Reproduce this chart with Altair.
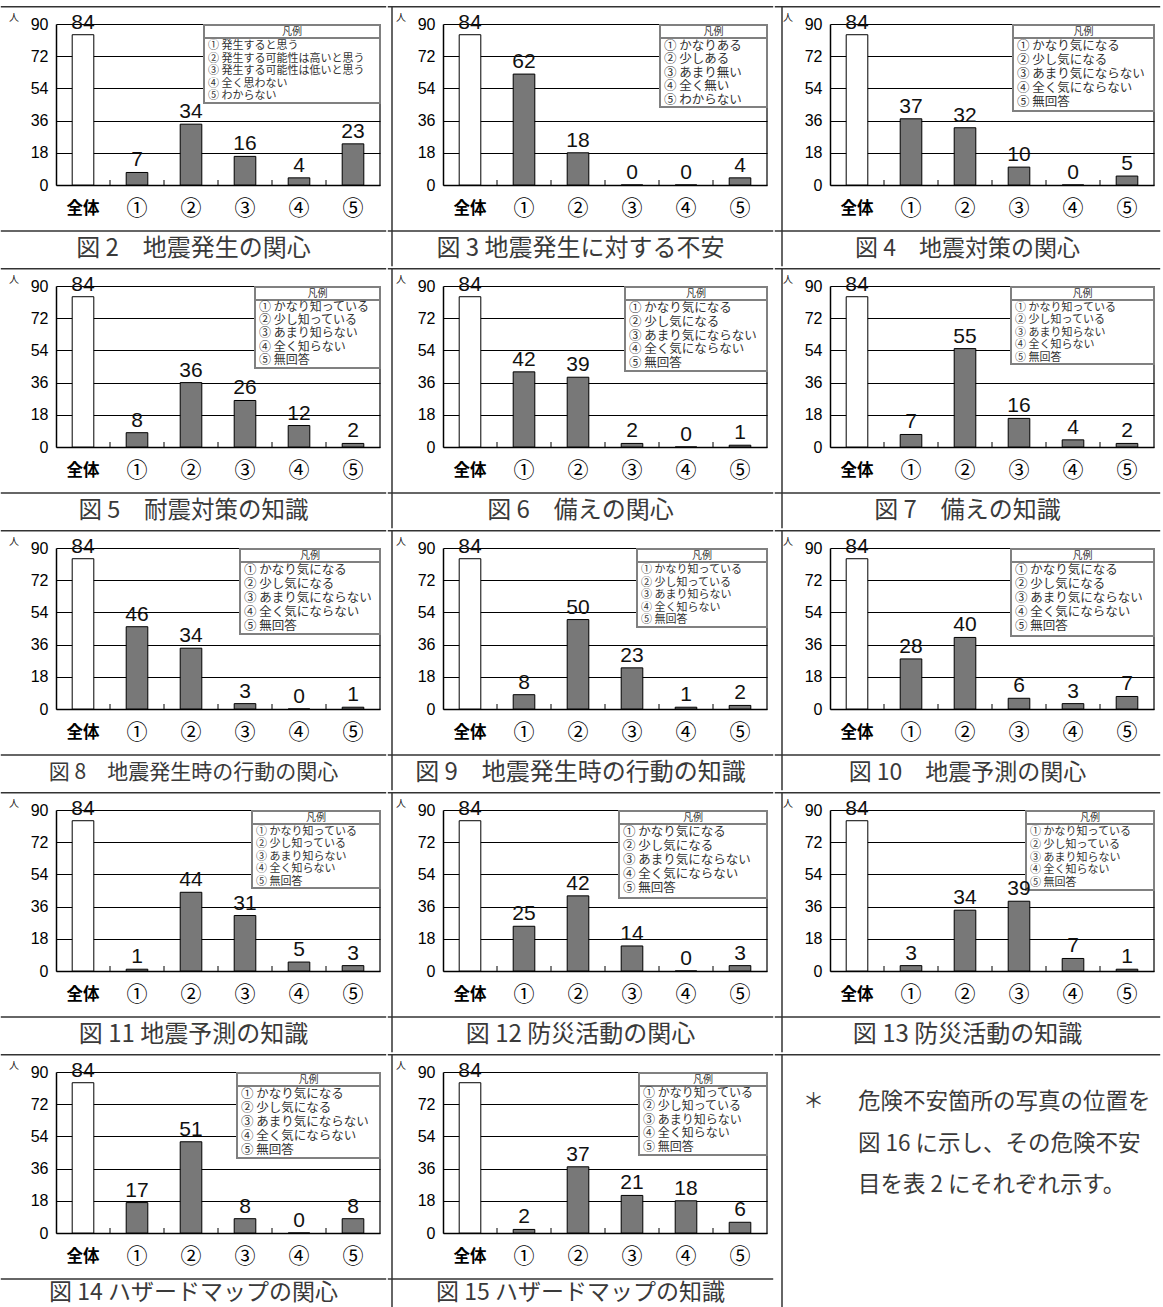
import altair as alt
import pandas as pd

JP = "Noto Sans CJK JP"
NUM = "Liberation Sans"

categories = ["全体", "①", "②", "③", "④", "⑤"]
tick_categories = ["①", "②", "③", "④", "⑤"]

values_fig2 = [84, 7, 34, 16, 4, 23]
values_fig3 = [84, 62, 18, 0, 0, 4]
values_fig4 = [84, 37, 32, 10, 0, 5]
values_fig5 = [84, 8, 36, 26, 12, 2]
values_fig6 = [84, 42, 39, 2, 0, 1]
values_fig7 = [84, 7, 55, 16, 4, 2]
values_fig8 = [84, 46, 34, 3, 0, 1]
values_fig9 = [84, 8, 50, 23, 1, 2]
values_fig10 = [84, 28, 40, 6, 3, 7]
values_fig11 = [84, 1, 44, 31, 5, 3]
values_fig12 = [84, 25, 42, 14, 0, 3]
values_fig13 = [84, 3, 34, 39, 7, 1]
values_fig14 = [84, 17, 51, 8, 0, 8]
values_fig15 = [84, 2, 37, 21, 18, 6]

y_ticks = [0, 18, 36, 54, 72, 90]

captions = [
    "図 2　地震発生の関心", "図 3 地震発生に対する不安", "図 4　地震対策の関心",
    "図 5　耐震対策の知識", "図 6　備えの関心", "図 7　備えの知識",
    "図 8　地震発生時の行動の関心", "図 9　地震発生時の行動の知識", "図 10　地震予測の関心",
    "図 11 地震予測の知識", "図 12 防災活動の関心", "図 13 防災活動の知識",
    "図 14 ハザードマップの関心", "図 15 ハザードマップの知識",
]

legend_fig2 = ["① 発生すると思う", "② 発生する可能性は高いと思う", "③ 発生する可能性は低いと思う",
               "④ 全く思わない", "⑤ わからない"]
legend_fig3 = ["① かなりある", "② 少しある", "③ あまり無い", "④ 全く無い", "⑤ わからない"]
legend_concern = ["① かなり気になる", "② 少し気になる", "③ あまり気にならない",
                  "④ 全く気にならない", "⑤ 無回答"]
legend_know = ["① かなり知っている", "② 少し知っている", "③ あまり知らない",
               "④ 全く知らない", "⑤ 無回答"]

note_mark = "＊"
note_lines = ["危険不安箇所の写真の位置を", "図 16 に示し、その危険不安項", "目を表 2 にそれぞれ示す。"]

W, H = 324, 161
L, R = 56, 7
TOP = 18
LINE = "#333333"
PAD_INNER = 0.6
STEP = W / len(categories)


def deco():
    return alt.Chart(alt.Data(values=[{}]))


def frame(col, bottom, caption_line):
    layers = [
        deco().mark_rule(strokeOpacity=0, opacity=0).encode(
            x=alt.value(-L), x2=alt.value(W + R), y=alt.value(-TOP), y2=alt.value(bottom)),
        deco().mark_rule(color=LINE, strokeWidth=1.5).encode(
            x=alt.value(-L + 0.8), x2=alt.value(W + R - 0.8), y=alt.value(-TOP + 0.8)),
    ]
    if caption_line:
        layers.append(deco().mark_rule(color=LINE, strokeWidth=1.5).encode(
            x=alt.value(-L + 0.8), x2=alt.value(W + R - 0.8), y=alt.value(207)))
    if col > 0:
        dx = [-51, -51, -48][col]
        layers.append(deco().mark_rule(color=LINE, strokeWidth=1.5).encode(
            x=alt.value(dx), y=alt.value(-TOP), y2=alt.value(bottom - 0.8)))
    return layers


X_AXIS = alt.Axis(
    title=None, labelAngle=0, labelFont=JP, labelBaseline="middle",
    labelFontSize={"condition": {"test": "datum.label == '全体'", "value": 16.5}, "value": 21},
    labelFontWeight={"condition": {"test": "datum.label == '全体'", "value": "bold"}, "value": "normal"},
    labelColor="black", domainColor="black", domainWidth=1.5, tickColor="black",
    tickOpacity=0, tickSize=5, labelPadding=18, grid=False)
Y_AXIS = alt.Axis(
    title=None, values=y_ticks, tickCount=10, labelOverlap=False, labelFont=NUM,
    labelFontSize=16, labelColor="black", gridColor="black", gridWidth=1,
    domainColor="black", domainWidth=1.5, ticks=False, labelPadding=8)
XS = alt.Scale(paddingInner=PAD_INNER, paddingOuter=PAD_INNER / 2)
YS = alt.Scale(domain=[0, 90], nice=False)


def cell(vals, caption, cap_fs, cap_y, legend_lines, bw, bh, lfs, col, bottom):
    df = pd.DataFrame({"cat": categories, "n": vals,
                       "kind": ["all"] + ["sub"] * 5})
    tdf = pd.DataFrame({"cat": tick_categories})
    xe = alt.X("cat:N", sort=categories, scale=XS, axis=X_AXIS)
    ye = alt.Y("n:Q", scale=YS, axis=Y_AXIS)
    base = alt.Chart(df)
    bars = base.mark_bar(stroke="black", strokeWidth=1).encode(
        x=xe, y=ye,
        color=alt.Color("kind:N", scale=alt.Scale(domain=["all", "sub"],
                                                   range=["white", "#787878"]), legend=None),
    )
    ticks = alt.Chart(tdf).mark_rule(color="black", strokeWidth=1,
                                     xOffset=-STEP * PAD_INNER / 2).encode(
        x=alt.X("cat:N", sort=categories, bandPosition=0),
        y=alt.value(H - 5), y2=alt.value(H))
    labels = base.mark_text(baseline="bottom", dy=-2, font=NUM, fontSize=21,
                            color="#111111").encode(x=xe, y=ye, text="n:Q")
    right_border = deco().mark_rule(color="black", strokeWidth=1.2).encode(
        x=alt.value(W), y=alt.value(0), y2=alt.value(H))
    lbox = deco().mark_rect(fill="white", stroke="#808080", strokeWidth=2).encode(
        x=alt.value(W - bw), x2=alt.value(W), y=alt.value(1), y2=alt.value(bh))
    lrule = deco().mark_rule(color="#808080", strokeWidth=2).encode(
        x=alt.value(W - bw), x2=alt.value(W), y=alt.value(14))
    ltitle = deco().mark_text(text="凡例", font=JP, fontSize=10, align="center",
                              baseline="middle", color="#333333").encode(
        x=alt.value(W - bw / 2), y=alt.value(8))
    lh = min(14.0, (bh - 16) / 5.0)
    ltext = deco().mark_text(text=legend_lines, font=JP, fontSize=lfs, lineHeight=lh,
                             align="left", baseline="top", color="#333333").encode(
        x=alt.value(W - bw + 4), y=alt.value(16))
    unit = deco().mark_text(text="人", font=JP, fontSize=10, color="#222222").encode(
        x=alt.value(-42), y=alt.value(-6))
    cap = deco().mark_text(text=caption, font=JP, fontSize=cap_fs, color="#3a3a3a",
                           baseline="middle", align="center").encode(
        x=alt.value((W + R - L) / 2), y=alt.value(cap_y))
    layers = frame(col, bottom, True) + [bars, ticks, right_border, lbox, lrule,
                                          ltitle, ltext, labels, unit, cap]
    return alt.layer(*layers).properties(width=W, height=H)


def note_cell(col, bottom):
    layers = frame(col, bottom, False)
    layers.append(deco().mark_text(text=note_mark, font=JP, fontSize=21, color="#3a3a3a",
                                   baseline="middle", align="left").encode(
        x=alt.value(-27), y=alt.value(30)))
    for i, t in enumerate(note_lines):
        layers.append(deco().mark_text(text=t, font=JP, fontSize=22.5, color="#3a3a3a",
                                       baseline="middle", align="left", limit=302,
                                       ellipsis="\u200b").encode(
            x=alt.value(28), y=alt.value(30 + 41.5 * i)))
    return alt.layer(*layers).properties(width=W, height=H)


all_values = [values_fig2, values_fig3, values_fig4, values_fig5, values_fig6,
              values_fig7, values_fig8, values_fig9, values_fig10, values_fig11,
              values_fig12, values_fig13, values_fig14, values_fig15]
all_legends = [legend_fig2, legend_fig3, legend_concern, legend_know, legend_concern,
               legend_know, legend_concern, legend_know, legend_concern, legend_know,
               legend_concern, legend_know, legend_concern, legend_know]
box_w = [176, 107, 141, 125, 142, 143, 140, 130, 143, 128, 148, 128, 143, 128]
box_h = [79, 83, 87, 82, 85, 78, 86, 79, 88, 78, 88, 80, 86, 83]
box_fs = [11, 12.5, 12.5, 12, 12.5, 11, 12.5, 11, 12.5, 11, 12.5, 11, 12.5, 12]
cap_fs = [24, 24, 23, 23.5, 24, 24, 21, 24, 23, 24, 24, 24, 23, 23]

rows = []
cells = []
for i in range(14):
    row = i // 3
    col = i % 3
    bottom = 243 if row < 4 else 240
    cap_y = 225 if row < 4 else 221
    cells.append(cell(all_values[i], captions[i], cap_fs[i], cap_y, all_legends[i],
                      box_w[i], box_h[i], box_fs[i], col, bottom))
cells.append(note_cell(2, 240))
for r in range(5):
    rows.append(alt.hconcat(*cells[r * 3:(r + 1) * 3], spacing=0))

chart = alt.vconcat(*rows, spacing=0).properties(
    padding={"top": 5, "left": 0, "right": 0, "bottom": 0}
).configure_view(strokeWidth=0).configure_concat(spacing=0)

chart.save("out.html", embed_options={"renderer": "svg", "actions": False})
